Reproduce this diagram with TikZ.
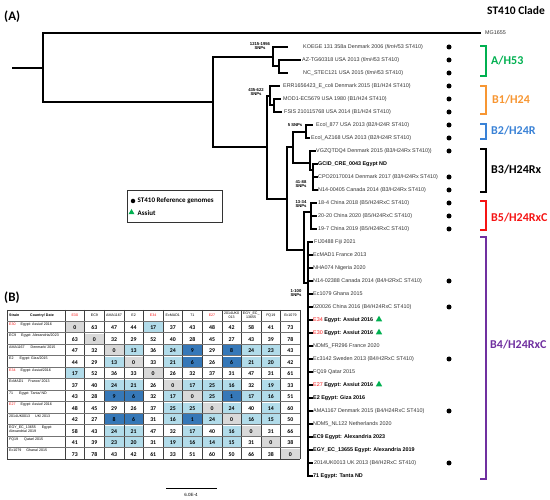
\documentclass[tikz,border=0pt]{standalone}
\usepackage{fontspec}
\setmainfont{Liberation Sans}
\newfontfamily\carl{Carlito}
\usetikzlibrary{shapes.geometric}
\definecolor{cgreen}{RGB}{0,176,80}
\definecolor{corange}{RGB}{247,150,50}
\definecolor{cblue}{RGB}{58,130,214}
\definecolor{cred}{RGB}{245,20,20}
\definecolor{cpurple}{RGB}{112,48,160}
\definecolor{cellgray}{RGB}{217,217,217}
\definecolor{celllight}{RGB}{178,220,234}
\definecolor{celldark}{RGB}{54,120,184}
\newcommand\leaffs{\fontsize{5.4}{6}\selectfont}
\newcommand\snpfs{\fontsize{4.2}{4.6}\selectfont\bfseries}
\newcommand\matfs{\fontsize{3.6}{4.1}\selectfont}
\newcommand\valfs{\carl\fontsize{5.8}{6}\selectfont\bfseries}
\begin{document}
\begin{tikzpicture}[x=1pt,y=-1pt,
  br/.style={line width=1.2pt, line cap=rect},
  leafs/.style={font=\leaffs, text=black!80, anchor=west, inner sep=0pt},
  leafb/.style={leafs, font=\leaffs\bfseries, text=black},
  snp/.style={font=\snpfs, align=center, inner sep=0pt},
  refdot/.style={circle, fill=black, minimum size=5pt, inner sep=0pt},
  tri/.style={regular polygon, regular polygon sides=3, fill=cgreen, minimum size=7.5pt, inner sep=0pt},
  clade/.style={font=\carl\fontsize{12}{13}\selectfont\bfseries, anchor=west, inner sep=0pt},
  brk/.style={line width=1.8pt},
  valf/.style={font=\valfs, inner sep=0pt},
  matl/.style={font=\matfs, anchor=west, inner sep=0pt, align=left},
  math/.style={font=\matfs, inner sep=0pt, align=center}
]
\useasboundingbox (0,0) rectangle (550,500);

% titles
\node[font=\carl\fontsize{13}{14}\selectfont\bfseries, anchor=west, inner sep=0pt] (tA) at (4,17) {(A)};
\node[font=\carl\fontsize{11.5}{13}\selectfont\bfseries, anchor=west, inner sep=0pt] (tClade) at (487,11) {ST410 Clade};
\node[font=\carl\fontsize{13}{14}\selectfont\bfseries, anchor=west, inner sep=0pt] (tB) at (4,298) {(B)};

% ---------- tree coordinates ----------
\coordinate (r0) at (13,68);
\coordinate (n0) at (43,68);
\coordinate (tMG) at (480,33);
\coordinate (n1) at (213,102);
\coordinate (nA) at (273,57);
\coordinate (tKO) at (287,47);
\coordinate (nA2) at (279,66);
\coordinate (tAZ) at (300,60);
\coordinate (tNC) at (287,73);
\coordinate (n2) at (267,147);
\coordinate (nB1) at (270,96);
\coordinate (tERR) at (279,86);
\coordinate (nB1b) at (274,105);
\coordinate (tMOD) at (280,99);
\coordinate (tFS) at (281,112);
\coordinate (n3) at (287,199);
\coordinate (n4) at (293,147);
\coordinate (nB2) at (306,132);
\coordinate (t877) at (312,125);
\coordinate (tAZ168) at (309,138);
\coordinate (nB3) at (310,163);
\coordinate (tVG) at (315,151);
\coordinate (nB3b) at (313,170);
\coordinate (tGC) at (317,164);
\coordinate (tCPO) at (317,177);
\coordinate (tN14) at (317,190);
\coordinate (n5) at (304,250);
\coordinate (nB5) at (311,212);
\coordinate (t184) at (316,203);
\coordinate (t2020) at (316,216);
\coordinate (t197) at (316,229);
\coordinate (nB4) at (308,283);

\draw[br] (r0) -- (n0);
\draw[br] (n0) |- (tMG);
\draw[br] (n0) |- (n1);
\draw[br] (n1) |- (nA);
\draw[br] (nA) |- (tKO);
\draw[br] (nA) |- (nA2);
\draw[br] (nA2) |- (tAZ);
\draw[br] (nA2) |- (tNC);
\draw[br] (n1) |- (n2);
\draw[br] (n2) |- (nB1);
\draw[br] (nB1) |- (tERR);
\draw[br] (nB1) |- (nB1b);
\draw[br] (nB1b) |- (tMOD);
\draw[br] (nB1b) |- (tFS);
\draw[br] (n2) |- (n3);
\draw[br] (n3) |- (n4);
\draw[br] (n4) |- (nB2);
\draw[br] (nB2) |- (t877);
\draw[br] (nB2) |- (tAZ168);
\draw[br] (n4) |- (nB3);
\draw[br] (nB3) |- (tVG);
\draw[br] (nB3) |- (nB3b);
\draw[br] (nB3b) |- (tGC);
\draw[br] (nB3b) |- (tCPO);
\draw[br] (nB3b) |- (tN14);
\draw[br] (n3) |- (n5);
\draw[br] (n5) |- (nB5);
\draw[br] (nB5) |- (t184);
\draw[br] (nB5) |- (t2020);
\draw[br] (nB5) |- (t197);
\draw[br] (n5) |- (nB4);
\foreach \i in {15,...,33}{
  \coordinate (tb\i) at (312,{47+13*\i});
  \draw[br] (nB4) |- (tb\i);
}
\draw[line width=1.5pt] (308,242) -- (308,476);

% SNP labels
\node[snp] (s1) at (260,46) {1215-1956\\SNPs};
\node[snp] (s2) at (256,92) {435-622\\SNPs};
\node[snp] (s3) at (295,125) {5 SNPs};
\node[snp] (s4) at (301,184) {41-88\\SNPs};
\node[snp] (s5) at (301,204) {13-34\\SNPs};
\node[snp] (s6) at (296,293) {1-100\\SNPs};

% leaves
\node[leafs] (L-MG) at (485,33) {MG1655};
\node[leafs] (L0) at (303,47) {KOEGE 131 358a Denmark 2006 (\textit{fimH}53 ST410)};
\node[leafs] (L1) at (302,60) {AZ-TG60318 USA 2013 (\textit{fimH}53 ST410)};
\node[leafs] (L2) at (303,73) {NC\_STEC121 USA 2015 (\textit{fimH}53 ST410)};
\node[leafs] (L3) at (283,86) {ERR1656423\_E\_coli Denmark 2015 (B1/H24 ST410)};
\node[leafs] (L4) at (283,99) {MOD1-EC5679 USA 1980 (B1/H24 ST410)};
\node[leafs] (L5) at (284,112) {FSIS 210115768 USA 2014 (B1/H24 ST410)};
\node[leafs] (L6) at (316,125) {Ecol\_877 USA 2013 (B2/H24R ST410)};
\node[leafs] (L7) at (311,138) {Ecol\_AZ168 USA 2013 (B2/H24R ST410)};
\node[leafs] (L8) at (316,151) {VGZQTDQ4 Denmark 2015 (B3/H24Rx ST410))};
\node[leafb] (L9) at (318,164) {GCID\_CRE\_0043 Egypt ND};
\node[leafs] (L10) at (318,177) {CPO20170014 Denmark 2017 (B3/H24Rx ST410)};
\node[leafs] (L11) at (318,190) {N14-00405 Canada 2014 (B3/H24Rx ST410)};
\node[leafs] (L12) at (318,203) {18-4 China 2018 (B5/H24RxC ST410)};
\node[leafs] (L13) at (318,216) {20-20 China 2020 (B5/H24RxC ST410)};
\node[leafs] (L14) at (318,229) {19-7 China 2019 (B5/H24RxC ST410)};
\node[leafs] (L15) at (314,242) {FIJ0488 Fiji 2021};
\node[leafs] (L16) at (313,255) {EcMAD1 France 2013};
\node[leafs] (L17) at (313,268) {NHA074 Nigeria 2020};
\node[leafs] (L18) at (313,281) {N14-02388 Canada 2014 (B4/H2RxC ST410)};
\node[leafs] (L19) at (313,294) {Ec1079 Ghana 2015};
\node[leafs] (L20) at (313,307) {020026 China 2016 (B4/H24RxC ST410)};
\node[leafb] (L21) at (313,320) {\textcolor{cred}{\mdseries E34} Egypt: Assiut 2016};
\node[leafb] (L22) at (313,333) {\textcolor{cred}{\mdseries E30} Egypt: Assiut 2016};
\node[leafs] (L23) at (313,346) {NDM5\_FR296 France 2020};
\node[leafs] (L24) at (313,359) {Ec3142 Sweden 2013 (B4/H2RxC ST410)};
\node[leafs] (L25) at (313,372) {FQ19 Qatar 2015};
\node[leafb] (L26) at (313,385) {\textcolor{cred}{\mdseries E27} Egypt: Assiut 2016};
\node[leafb] (L27) at (313,398) {E2 Egypt: Giza 2016};
\node[leafs] (L28) at (313,411) {AMA1167 Denmark 2015 (B4/H24RxC ST410)};
\node[leafs] (L29) at (313,424) {NDM5\_NL122 Netherlands 2020};
\node[leafb] (L30) at (313,437) {EC9 Egypt: Alexandria 2023};
\node[leafb] (L31) at (313,450) {EGY\_EC\_13655 Egypt: Alexandria 2019};
\node[leafs] (L32) at (314,463) {2014UK0013 UK 2013 (B4/H2RxC ST410)};
\node[leafb] (L33) at (313,476) {71 Egypt: Tanta ND};

% reference dots and Assiut triangles
\foreach \i in {0,...,8,10,11,12,13,14,18,20,24,28,32}{
  \node[refdot] (d\i) at (449,{47+13*\i}) {};
}
\node[tri] (a21) at (379,319.5) {};
\node[tri] (a22) at (379,332.5) {};
\node[tri] (a26) at (379,384.5) {};

% clade brackets
\draw[brk, cgreen] (480,46) -- (486,46) -- (486,76) -- (480,76);
\node[clade, text=cgreen] (cA) at (491,61) {A/H53};
\draw[brk, corange] (480,86) -- (486,86) -- (486,114) -- (480,114);
\node[clade, text=corange] (cB1) at (492,100) {B1/H24};
\draw[brk, cblue] (480,124) -- (486,124) -- (486,139) -- (480,139);
\node[clade, text=cblue] (cB2) at (491,131) {B2/H24R};
\draw[brk, black] (480,149) -- (486,149) -- (486,192) -- (480,192);
\node[clade, text=black] (cB3) at (491,170) {B3/H24Rx};
\draw[brk, cred] (480,201) -- (486,201) -- (486,230) -- (480,230);
\node[clade, text=cred] (cB5) at (491,218) {B5/H24RxC};
\draw[brk, cpurple] (480,237) -- (486,237) -- (486,479) -- (480,479);
\node[clade, text=cpurple] (cB4) at (490,345) {B4/H24RxC};

% legend
\node[draw=black!80, line width=0.6pt, minimum width=95pt, minimum height=32pt, inner sep=0pt] (leg) at (174.5,206) {};
\node[refdot, minimum size=4.5pt] (legdot) at (133,201) {};
\node[font=\carl\fontsize{7}{8}\selectfont\bfseries, anchor=west, inner sep=0pt] (legt1) at (137.5,201) {ST410 Reference genomes};
\node[tri, minimum size=7pt] (legtri) at (131.5,212.5) {};
\node[font=\carl\fontsize{7}{8}\selectfont\bfseries, anchor=west, inner sep=0pt] (legt2) at (137.5,213) {Assiut};

% scale bar
\coordinate (sb1) at (166,488);
\coordinate (sb2) at (217,488);
\draw[line width=0.8pt] (sb1) -- (sb2);
\node[font=\fontsize{4.5}{5}\selectfont, inner sep=0pt] (sbl) at (191,495) {6.0E-4};

% ---------- matrix (B) ----------
\foreach \row [count=\i from 0] in {
 {0,63,47,44,17,37,43,48,42,58,41,73},
 {63,0,32,29,52,40,28,45,27,43,39,78},
 {47,32,0,13,36,24,9,29,8,24,23,43},
 {44,29,13,0,33,21,6,26,6,21,20,42},
 {17,52,36,33,0,26,32,37,31,47,31,61},
 {37,40,24,21,26,0,17,25,16,32,19,33},
 {43,28,9,6,32,17,0,25,1,17,16,51},
 {48,45,29,26,37,25,25,0,24,40,14,60},
 {42,27,8,6,31,16,1,24,0,16,15,50},
 {58,43,24,21,47,32,17,40,16,0,31,66},
 {41,39,23,20,31,19,16,14,15,31,0,38},
 {73,78,43,42,61,33,51,60,50,66,38,0}}{
  \foreach \v [count=\j from 0] in \row {
    \ifnum\v=0 \def\cc{cellgray}\else\ifnum\v<10 \def\cc{celldark}\else\ifnum\v<26 \def\cc{celllight}\else\def\cc{white}\fi\fi\fi
    \fill[\cc] ({65+19.6*\j},{322.5+11.5*\i}) rectangle +(19.6,10);
    \node[valf] (m-\i-\j) at ({74.8+19.6*\j},{328+11.5*\i}) {\v};
  }
}
% grid
\foreach \k in {0,...,12}{
  \draw[line width=0.5pt, black!75] ({65+19.6*\k},310) -- ({65+19.6*\k},459);
}
\draw[line width=0.5pt, black!75] (7,310) -- (7,459);
\draw[line width=0.5pt, black!75] (7,310) -- (300,310);
\foreach \k in {0,...,12}{
  \draw[line width=0.35pt, black!55] (7,{321+11.5*\k}) -- (300,{321+11.5*\k});
}
\draw[line width=0.5pt, black!75] (7,459) -- (300,459);

% header
\node[matl, font=\matfs\bfseries] (hS) at (9,315.5) {Strain};
\node[matl, font=\matfs\bfseries] (hC) at (30,315.5) {Country/ Date};
\foreach \h [count=\j from 0] in {\textcolor{cred}{E30},EC9,AMA1167,E2,\textcolor{cred}{E34},EcMAD1,71,\textcolor{cred}{E27},{2014UK0\\013},{EGY\_EC\_\\13655},FQ19,Ec1079}{
  \node[math] (h\j) at ({74.8+19.6*\j},315.5) {\h};
}
% row labels
\foreach \lab [count=\i from 0] in {
 {\textcolor{cred}{E30}\hspace{5pt}Egypt: Assiut/ 2016},
 {EC9\hspace{5pt}Egypt: Alexandria/2023},
 {AMA1167\hspace{6pt}Denmark/ 2015},
 {E2\hspace{6pt}Egypt: Giza/2015},
 {\textcolor{cred}{E34}\hspace{5pt}Egypt: Assiut/2016},
 {EcMAD1\hspace{5pt}France/ 2013},
 {71\hspace{6pt}Egypt: Tanta/ ND},
 {\textcolor{cred}{E27}\hspace{5pt}Egypt: Assiut/ 2016},
 {2014UK0013\hspace{5pt}UK/ 2013},
 {EGY\_EC\_13655\hspace{6pt}Egypt:\\Alexandria/ 2019},
 {FQ19\hspace{6pt}Qatar/ 2015},
 {Ec1079\hspace{5pt}Ghana/ 2015}}{
  \node[matl, anchor=north west] (rl\i) at (9,{322.5+11.5*\i}) {\lab};
}
\end{tikzpicture}
\end{document}
